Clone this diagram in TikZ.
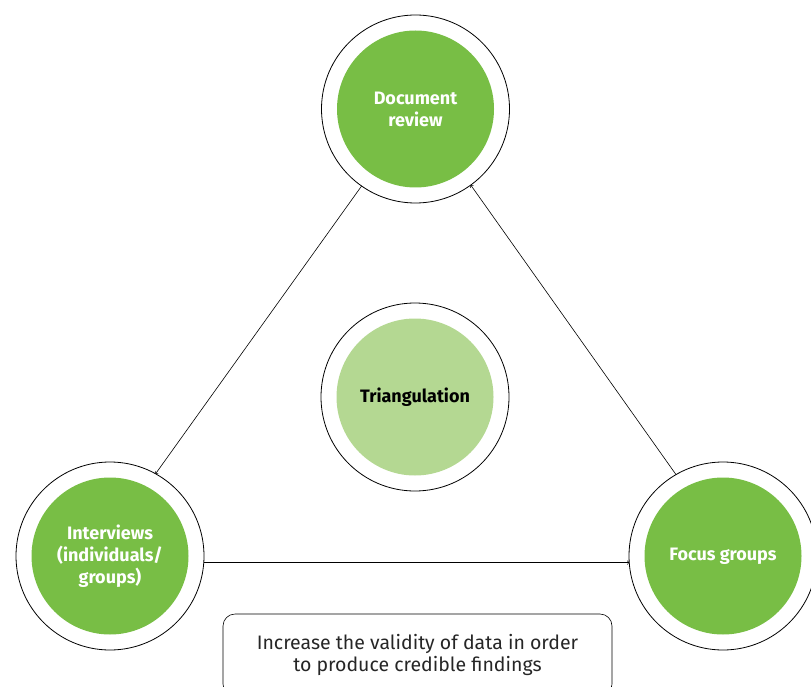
\documentclass[tikz,border=0pt]{standalone}
\usepackage{fontspec}
\setmainfont{Fira Sans}
\definecolor{leaf}{RGB}{120,190,69}
\definecolor{paleleaf}{RGB}{180,216,146}
\tikzset{
  ring/.style={circle, draw, line width=0.8pt, minimum size=188pt, inner sep=0pt, outer sep=0pt},
  core/.style={circle, fill=leaf, minimum size=157pt, inner sep=0pt, text=white, align=center,
    font=\bfseries\fontsize{18}{22}\selectfont},
  link/.style={->, line width=0.6pt}
}
\begin{document}
\begin{tikzpicture}[x=1pt, y=-1pt]
  \useasboundingbox (0,0) rectangle (811,687);
  % outer rings
  \node[ring] (doc) at (415.5,109) {};
  \node[ring] (tri) at (415,397) {};
  \node[ring] (intv) at (110,556) {};
  \node[ring] (focus) at (723,556) {};
  % filled cores
  \node[core] (docin) at (doc) {Document\\review};
  \node[core, fill=paleleaf, text=black] (triin) at (tri) {Triangulation};
  \node[core] (intvin) at (intv) {Interviews\\(individuals/\\groups)};
  \node[core] (focusin) at (focus) {Focus groups};
  % connectors
  \draw[link] (doc.235) -- (intv.61);
  \draw[link] (intv.-4) -- (focus.184);
  \draw[link] (focus.120) -- (doc.306);
  % note
  \node[draw, line width=0.6pt, rounded corners=12pt, minimum width=389pt, minimum height=82pt,
    align=center, text=black!85, font=\fontsize{19.5}{22}\selectfont] (goal) at (417.5,655)
    {Increase the validity of data in order\\to produce credible findings};
\end{tikzpicture}
\end{document}
